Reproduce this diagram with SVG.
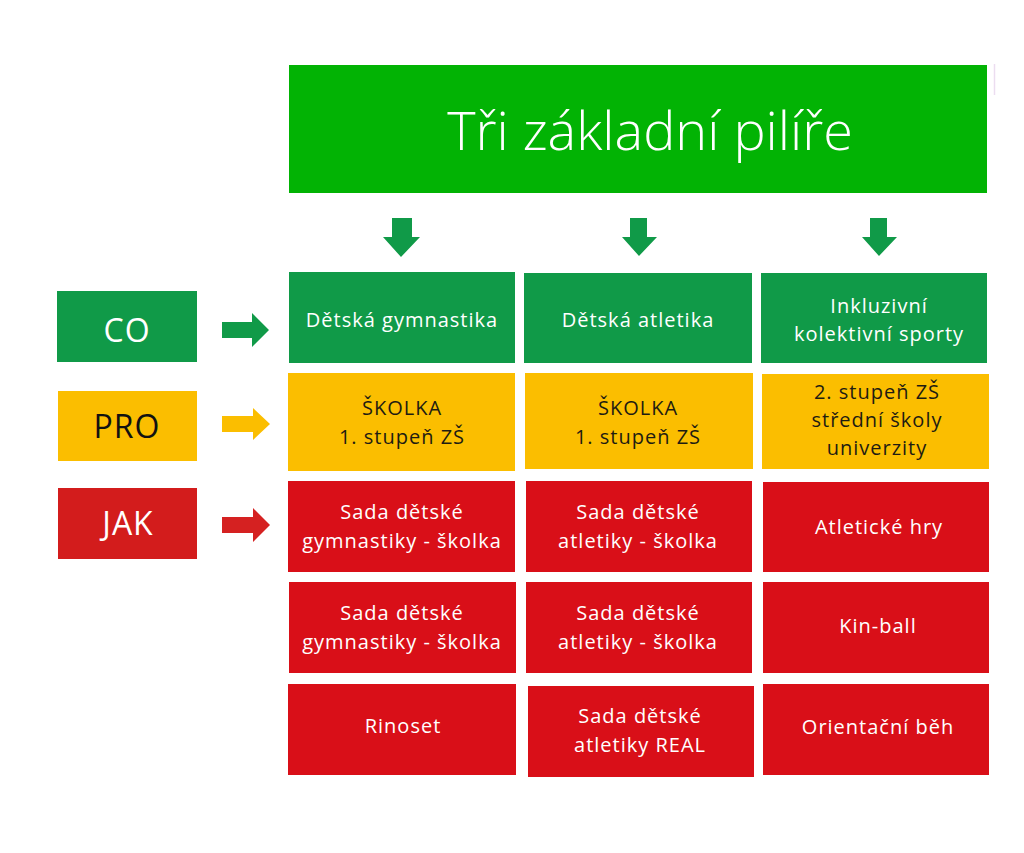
<svg xmlns="http://www.w3.org/2000/svg" width="1024" height="853" viewBox="0 0 1024 853">
<style>
.t{font-family:"Open Sans","DejaVu Sans",sans-serif;font-size:20px;text-anchor:middle;letter-spacing:1px}
.w{fill:#ffffff}
.d{fill:#1e1c12}
.g{fill:#109A48}
.y{fill:#FBBE00}
.r{fill:#D90F18}
.lab{font-family:"Open Sans","DejaVu Sans",sans-serif;font-size:32px;text-anchor:middle;letter-spacing:1px}
</style>
<rect width="1024" height="853" fill="#ffffff"/>
<g id="title">
<rect x="289" y="65" width="698" height="128" fill="#02B304"/>
<line x1="994.5" y1="64" x2="994.5" y2="95" stroke="#ECDDF0" stroke-width="1.5"/>
<text x="650" y="150" font-family="'Open Sans','DejaVu Sans',sans-serif" font-size="54" font-weight="300" text-anchor="middle" fill="#ffffff">Tři základní pilíře</text>
</g>
<g id="label-co"><rect x="57" y="291" width="140" height="71" fill="#109A48"/><text class="lab w" x="127" y="342">CO</text></g>
<g id="label-pro"><rect x="58" y="391" width="139" height="70" fill="#FBBE00"/><text class="lab" fill="#111111" x="127" y="438">PRO</text></g>
<g id="label-jak"><rect x="58" y="488" width="139" height="71" fill="#D31C1C"/><text class="lab w" x="128" y="535">JAK</text></g>
<g id="connectors">
<polygon points="392,218 412,218 412,237 420,237 401,257 383,237 392,237" fill="#109A48"/>
<polygon points="630,218 647,218 647,237 657,237 639,256 622,237 630,237" fill="#109A48"/>
<polygon points="870,218 887,218 887,237 897,237 879,256 862,237 870,237" fill="#109A48"/>
<polygon points="222,322 252,322 252,313 269,330 252,347 252,338 222,338" fill="#109A48"/>
<polygon points="222,416 253,416 253,408 270,424 253,440 253,432 222,432" fill="#FBBE00"/>
<polygon points="222,517 253,517 253,508 270,525 253,542 253,533 222,533" fill="#D52121"/>
</g>
<g id="c11"><rect class="g" x="289" y="272" width="226" height="91"/><text class="t w" x="402" y="327">Dětská gymnastika</text></g>
<g id="c12"><rect class="g" x="524" y="273" width="228" height="90"/><text class="t w" x="638" y="327">Dětská atletika</text></g>
<g id="c13"><rect class="g" x="761" y="273" width="226" height="90"/><text class="t w" x="879" y="313">Inkluzivní</text><text class="t w" x="879" y="341">kolektivní sporty</text></g>
<g id="c21"><rect class="y" x="288" y="373" width="227" height="98"/><text class="t d" x="402" y="415">ŠKOLKA</text><text class="t d" x="402" y="444">1. stupeň ZŠ</text></g>
<g id="c22"><rect class="y" x="525" y="373" width="228" height="96"/><text class="t d" x="638" y="415">ŠKOLKA</text><text class="t d" x="638" y="444">1. stupeň ZŠ</text></g>
<g id="c23"><rect class="y" x="762" y="374" width="227" height="95"/><text class="t d" x="877" y="399">2. stupeň ZŠ</text><text class="t d" x="877" y="427">střední školy</text><text class="t d" x="877" y="455">univerzity</text></g>
<g id="c31"><rect class="r" x="288" y="481" width="227" height="91"/><text class="t w" x="402" y="519">Sada dětské</text><text class="t w" x="402" y="548">gymnastiky - školka</text></g>
<g id="c32"><rect class="r" x="526" y="481" width="226" height="91"/><text class="t w" x="638" y="519">Sada dětské</text><text class="t w" x="638" y="548">atletiky - školka</text></g>
<g id="c33"><rect class="r" x="763" y="482" width="226" height="90"/><text class="t w" x="879" y="534">Atletické hry</text></g>
<g id="c41"><rect class="r" x="289" y="582" width="227" height="91"/><text class="t w" x="402" y="620">Sada dětské</text><text class="t w" x="402" y="649">gymnastiky - školka</text></g>
<g id="c42"><rect class="r" x="526" y="582" width="226" height="91"/><text class="t w" x="638" y="620">Sada dětské</text><text class="t w" x="638" y="649">atletiky - školka</text></g>
<g id="c43"><rect class="r" x="763" y="582" width="226" height="91"/><text class="t w" x="878" y="633">Kin-ball</text></g>
<g id="c51"><rect class="r" x="288" y="684" width="228" height="91"/><text class="t w" x="403" y="733">Rinoset</text></g>
<g id="c52"><rect class="r" x="528" y="686" width="226" height="91"/><text class="t w" x="640" y="723">Sada dětské</text><text class="t w" x="640" y="752">atletiky REAL</text></g>
<g id="c53"><rect class="r" x="763" y="684" width="226" height="91"/><text class="t w" x="878" y="734">Orientační běh</text></g>
</svg>
